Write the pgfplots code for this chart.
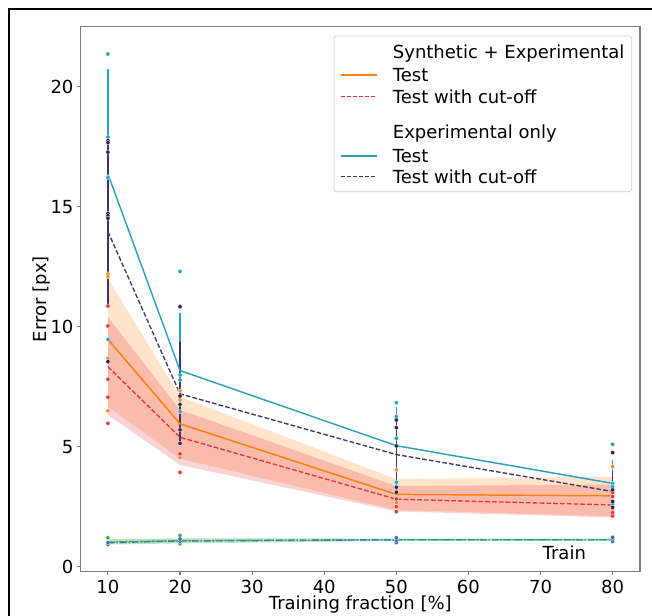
\documentclass[border=0pt]{standalone}
\usepackage{pgfplots}
\pgfplotsset{compat=1.18}
\usepackage{fontspec}
\setmainfont{DejaVu Sans}
\definecolor{cOrange}{HTML}{FF7F0E}
\definecolor{cRed}{HTML}{E8353B}
\definecolor{cTeal}{HTML}{2AA3BF}
\definecolor{cNavy}{HTML}{3A3566}
\definecolor{cNavyDot}{HTML}{2B2352}
\definecolor{cOrDot}{HTML}{F28E2B}
\definecolor{cGreen}{HTML}{3CB043}
\definecolor{cBlue}{HTML}{3B6CB7}
\definecolor{cAxis}{HTML}{808080}
\newcommand{\fs}{\fontsize{13.5}{16.9}\selectfont}
\begin{document}
\begin{tikzpicture}
\useasboundingbox (0,0) rectangle (489pt,461.25pt);
\draw[black, line width=0.9pt] (6.75pt,-20pt) -- (6.75pt,454.5pt) -- (520pt,454.5pt);
\begin{axis}[
  at={(60.4pt,32.5pt)}, anchor=south west,
  scale only axis, width=419.6pt, height=408.75pt,
  xmin=6.2, xmax=83.8, ymin=-0.21, ymax=22.5,
  xtick={10,20,30,40,50,60,70,80}, ytick={0,5,10,15,20},
  axis line style={cAxis, line width=0.8pt},
  tick style={cAxis, line width=0.8pt},
  tick align=outside, major tick length=2.8pt,
  xtick pos=bottom, ytick pos=left,
  /pgf/number format/assume math mode=true,
  ticklabel style={font=\fs},
  yticklabel style={xshift=1pt},
  label style={font=\fs},
  xlabel={Training fraction [\%]}, ylabel={Error [px]},
  xlabel style={at={(axis description cs:0.5,-0.061)}, anchor=center},
  ylabel style={at={(axis description cs:-0.0706,0.5)}, anchor=center},
  unbounded coords=jump,
]
% ---- bands
\addplot[draw=none, fill=cOrange, fill opacity=0.22, forget plot]
  coordinates {(10,12.0) (20,7.08) (50,3.65) (80,3.75) (80,2.10) (50,2.36) (20,4.50) (10,6.67)} -- cycle;
\addplot[draw=none, fill=cRed, fill opacity=0.22, forget plot]
  coordinates {(10,10.4) (20,6.53) (50,3.36) (80,3.42) (80,2.05) (50,2.30) (20,4.24) (10,6.32)} -- cycle;
% ---- train band and lines
\addplot[draw=none, fill=cGreen, fill opacity=0.35, forget plot]
  coordinates {(10,1.14) (20,1.18) (50,1.17) (80,1.17) (80,1.07) (50,1.07) (20,0.97) (10,0.92)} -- cycle;
\addplot[color=cBlue, line width=1.1pt, dash pattern=on 5pt off 1.5pt on 1pt off 1.5pt, forget plot]
  coordinates {(10,1.00) (20,1.07) (50,1.12) (80,1.12)};
\addplot[color=cGreen!60!cTeal, line width=0.8pt, dash pattern=on 4pt off 1.5pt on 1pt off 1.5pt, forget plot]
  coordinates {(10,1.03) (20,1.09) (50,1.12) (80,1.12)};
% ---- vertical bars
\addplot[color=cTeal, line width=1.1pt, forget plot]
  coordinates {(10,12.0) (10,20.74) (10,nan) (20,7.0) (20,10.56) (20,nan) (50,4.0) (50,6.67) (50,nan) (80,3.0) (80,4.45)};
\addplot[color=cNavy, line width=1.1pt, forget plot]
  coordinates {(10,10.8) (10,17.75) (10,nan) (20,5.14) (20,9.38) (20,nan) (50,3.10) (50,6.11) (50,nan) (80,2.40) (80,4.00)};
% ---- mean lines
\addplot[color=cOrange, line width=1.1pt, forget plot]
  coordinates {(10,9.47) (20,5.95) (50,3.01) (80,2.95)};
\addplot[color=cRed, line width=1.0pt, dash pattern=on 3.5pt off 1.6pt, forget plot]
  coordinates {(10,8.33) (20,5.39) (50,2.81) (80,2.57)};
\addplot[color=cTeal, line width=1.1pt, forget plot]
  coordinates {(10,16.36) (20,8.17) (50,5.04) (80,3.47)};
\addplot[color=cNavy, line width=1.0pt, dash pattern=on 3.5pt off 1.6pt, forget plot]
  coordinates {(10,13.96) (20,7.2) (50,4.67) (80,3.13)};
% ---- dots
\pgfplotsset{dotsty/.style={only marks, mark=*, mark size=1.6pt, mark options={fill=#1, draw=white, line width=0.2pt}, forget plot}}
\addplot[dotsty=cOrDot] coordinates {(10,12.2)(10,12.08)(10,8.68)(10,6.49)(20,7.32)(20,6.95)(20,5.14)(20,4.54)(50,4.03)(50,2.67)(80,4.17)(80,2.36)};
\addplot[dotsty=cRed] coordinates {(10,10.86)(10,10.03)(10,7.81)(10,7.06)(10,5.97)(20,4.70)(20,3.93)(50,2.82)(50,2.50)(50,2.29)(80,3.10)(80,2.92)(80,2.25)(80,2.11)};
\addplot[dotsty=cTeal] coordinates {(10,21.36)(10,17.9)(10,16.21)(10,9.47)(20,12.3)(20,7.99)(20,7.78)(20,6.46)(50,6.83)(50,6.25)(50,5.35)(50,3.52)(80,5.10)(80,3.47)(80,3.33)(80,2.6)};
\addplot[dotsty=cNavyDot] coordinates {(10,17.75)(10,17.67)(10,17.27)(10,14.72)(10,14.62)(10,14.52)(10,8.54)(20,10.83)(20,7.11)(20,6.76)(20,5.70)(20,5.14)(50,6.11)(50,5.79)(50,5.03)(50,3.31)(50,3.10)(80,4.75)(80,3.20)(80,2.71)(80,2.47)};
\addplot[dotsty=cGreen] coordinates {(10,1.2)(10,0.95)(20,1.3)(20,0.95)};
\addplot[dotsty=cBlue] coordinates {(10,0.92)(10,1.0)(20,1.05)(20,1.15)(50,1.0)(50,1.1)(50,1.2)(80,1.05)(80,1.15)(80,1.22)};
% ---- train label
\node[fill=white, fill opacity=0.8, text opacity=1, font=\fs, inner sep=1.5pt] at (axis cs:73.3,0.57) {Train};
\end{axis}
% ---- legend (drawn in picture coordinates)
\draw[black!18, fill=white, fill opacity=0.85, rounded corners=2pt, line width=0.6pt]
  (250.5pt,317.5pt) rectangle (473.8pt,434.25pt);
\begin{scope}[every node/.style={font=\fs, anchor=base west, inner sep=0pt}]
\node at (294.5pt,417.6pt) {Synthetic + Experimental};
\draw[cOrange, line width=1.1pt] (255.75pt,405pt) -- (282.75pt,405pt);
\node at (294.5pt,400.1pt) {Test};
\draw[cRed, line width=1.0pt, dash pattern=on 3pt off 1.5pt] (255.75pt,388.7pt) -- (282.75pt,388.7pt);
\node at (294.5pt,383.8pt) {Test with cut-off};
\node at (294.5pt,357.6pt) {Experimental only};
\draw[cTeal, line width=1.1pt] (255.75pt,344.25pt) -- (282.75pt,344.25pt);
\node at (294.5pt,339.35pt) {Test};
\draw[cNavy, line width=1.0pt, dash pattern=on 3pt off 1.5pt] (255.75pt,328.7pt) -- (282.75pt,328.7pt);
\node at (294.5pt,323.8pt) {Test with cut-off};
\end{scope}
\end{tikzpicture}
\end{document}
